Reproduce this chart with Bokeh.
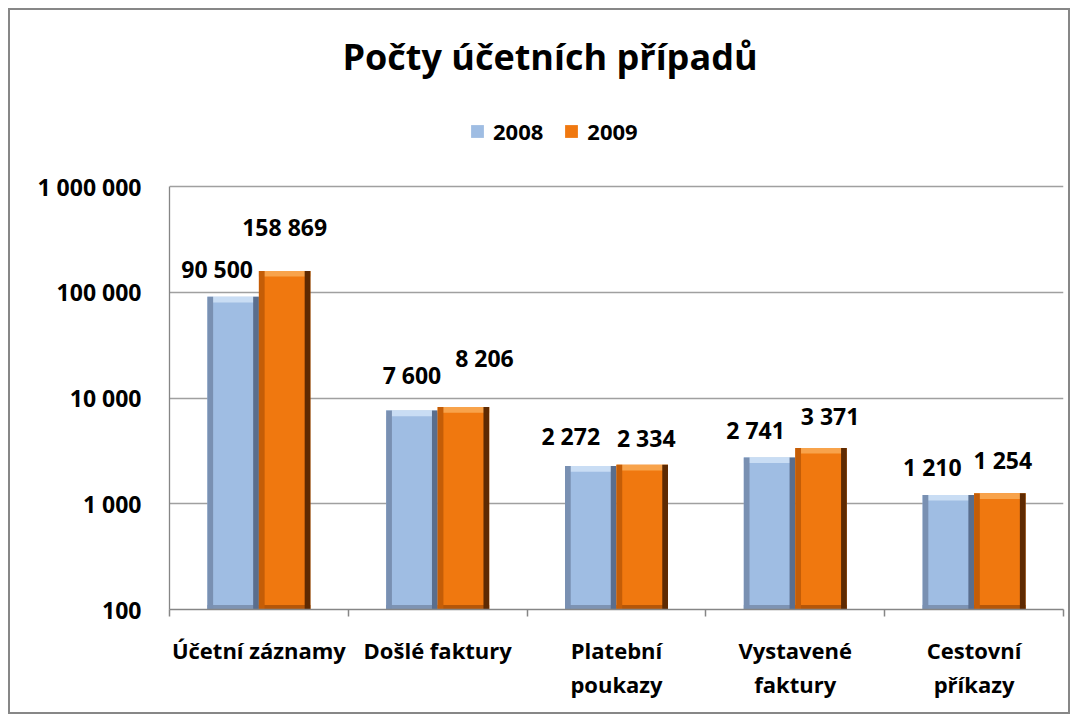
from bokeh.plotting import figure
from bokeh.models import ColumnDataSource, Range1d, FixedTicker, Label, Legend, LegendItem
from bokeh.transform import dodge
from bokeh.core.properties import value
from bokeh.embed import file_html
from bokeh.resources import INLINE

# ---------------- data ----------------
categories = ["Účetní záznamy", "Došlé faktury", "Platební\npoukazy", "Vystavené\nfaktury", "Cestovní\npříkazy"]
series_names = ["2008", "2009"]
values_2008 = [90500, 7600, 2272, 2741, 1210]
values_2009 = [158869, 8206, 2334, 3371, 1254]
y_ticks = [100, 1000, 10000, 100000, 1000000]
y_tick_labels = ["100", "1 000", "10 000", "100 000", "1 000 000"]
title_text = "Počty účetních případů"

# ---------------- label placement (pixels) ----------------
label_dx_2008 = [-16, 0, -20, -14, -16]
label_dy_2008 = [-28, -36, -30, -27, -28]
label_dx_2009 = [0, 21, 4, 9, 3]
label_dy_2009 = [-44, -49, -27, -32, -33]

# ---------------- styles / layout ----------------
FONT = "Open Sans"
BW = 0.288      # bar width (category units)
S = 0.032       # bevel side strip width
TOPF = 1.13     # bevel top factor (log scale)
BOTF = 1.10
C08 = dict(main="#9FBDE3", top="#C9DDF4", left="#7990B2", right="#5A6E8D", bottom="#7D93B3")
C09 = dict(main="#F0780F", top="#F8A34B", left="#C45D07", right="#5E2A02", bottom="#B55608")
GRID = "#A0A0A0"
AXIS = "#868686"

AXIS_PX = 423          # pixel height of the decade axis (100 .. 1 000 000)
HEAD_PX = 166          # room above the axis for title and legend (inside the frame)

def fmt(v):
    return f"{v:,}".replace(",", " ")

n = len(categories)
centers = [i + 0.5 for i in range(n)]
decades = len(y_ticks) - 1
y_top = y_ticks[-1] * 10 ** (HEAD_PX / (AXIS_PX / decades))

src = ColumnDataSource(dict(
    x=centers,
    v08=values_2008, v09=values_2009,
    v08b=[v / TOPF for v in values_2008], v09b=[v / TOPF for v in values_2009],
    lab08=[fmt(v) for v in values_2008], lab09=[fmt(v) for v in values_2009],
    dx08=label_dx_2008, dy08=label_dy_2008, dx09=label_dx_2009, dy09=label_dy_2009,
))

p = figure(x_range=Range1d(0, n), y_range=Range1d(y_ticks[0], y_top), y_axis_type="log",
           frame_width=894, frame_height=AXIS_PX + HEAD_PX,
           min_border_left=159, min_border_right=5, min_border_top=10, min_border_bottom=103,
           output_backend="svg", toolbar_location=None)
p.outline_line_color = None
p.background_fill_color = "white"
p.border_fill_color = "white"
p.styles = {"border": "2px solid #878787", "margin": "8px"}

# grid
p.xgrid.visible = False
p.ygrid.ticker = FixedTicker(ticks=y_ticks)
p.ygrid.grid_line_color = GRID
p.ygrid.grid_line_width = 1.3

# y axis
p.yaxis.ticker = FixedTicker(ticks=y_ticks)
p.yaxis.bounds = (y_ticks[0], y_ticks[-1])
p.yaxis.major_label_overrides = {t: l for t, l in zip(y_ticks, y_tick_labels)}
p.yaxis.major_tick_out = 0
p.yaxis.major_tick_in = 0
p.yaxis.minor_tick_out = 0
p.yaxis.minor_tick_in = 0
p.yaxis.axis_line_color = AXIS
p.yaxis.axis_line_width = 1.3
p.yaxis.major_label_standoff = 28
p.yaxis.major_label_text_font = FONT
p.yaxis.major_label_text_font_style = "bold"
p.yaxis.major_label_text_font_size = "23px"
p.yaxis.major_label_text_color = "black"

# x axis
p.xaxis.ticker = FixedTicker(ticks=centers, minor_ticks=list(range(n + 1)))
p.xaxis.major_label_overrides = {c: name for c, name in zip(centers, categories)}
p.xaxis.major_tick_out = 0
p.xaxis.major_tick_in = 0
p.xaxis.minor_tick_out = 7
p.xaxis.minor_tick_in = 0
p.xaxis.minor_tick_line_color = AXIS
p.xaxis.minor_tick_line_width = 1.5
p.xaxis.axis_line_color = AXIS
p.xaxis.axis_line_width = 1.5
p.xaxis.major_label_standoff = 18
p.xaxis.major_label_text_font = FONT
p.xaxis.major_label_text_font_style = "bold"
p.xaxis.major_label_text_font_size = "22px"
p.xaxis.major_label_text_color = "black"
p.xaxis.major_label_text_line_height = 1.15

# bars with bevel look
def bars(vcol, bcol, sign, C):
    cx = sign * BW / 2
    r = p.vbar(x=dodge("x", cx), top=vcol, bottom=y_ticks[0], width=BW, source=src,
               fill_color=C["main"], line_color=None)
    p.vbar(x=dodge("x", cx), top=vcol, bottom=bcol, width=BW, source=src,
           fill_color=C["top"], line_color=None)
    p.vbar(x=dodge("x", cx), top=y_ticks[0] * BOTF, bottom=y_ticks[0], width=BW, source=src,
           fill_color=C["bottom"], line_color=None)
    p.vbar(x=dodge("x", cx - BW / 2 + S / 2), top=vcol, bottom=y_ticks[0], width=S, source=src,
           fill_color=C["left"], line_color=None)
    p.vbar(x=dodge("x", cx + BW / 2 - S / 2), top=vcol, bottom=y_ticks[0], width=S, source=src,
           fill_color=C["right"], line_color=None)
    return r

r08 = bars("v08", "v08b", -1, C08)
r09 = bars("v09", "v09b", 1, C09)

# data labels
for vcol, lcol, dxc, dyc, sign in [("v08", "lab08", "dx08", "dy08", -1), ("v09", "lab09", "dx09", "dy09", 1)]:
    p.text(x=dodge("x", sign * BW / 2), y=vcol, text=lcol, x_offset=dxc, y_offset=dyc, source=src,
           text_font=value(FONT), text_font_style="bold", text_font_size="23px",
           text_align="center", text_baseline="middle", text_color="black")

# title
p.add_layout(Label(x=380.5, y=553, x_units="screen", y_units="screen", text=title_text,
                   text_align="center", text_baseline="middle", text_font=FONT,
                   text_font_style="bold", text_font_size="36px", text_color="black"))

# legend
legend = Legend(items=[LegendItem(label=series_names[0], renderers=[r08]),
                       LegendItem(label=series_names[1], renderers=[r09])],
                location=(300, 463), orientation="horizontal",
                glyph_width=16, glyph_height=16, label_standoff=8, spacing=20,
                padding=0, margin=0, border_line_alpha=0, background_fill_alpha=0,
                label_text_font=FONT, label_text_font_style="bold", label_text_font_size="22px",
                label_text_color="black")
p.add_layout(legend)

open("out.html", "w").write(file_html(p, INLINE))
